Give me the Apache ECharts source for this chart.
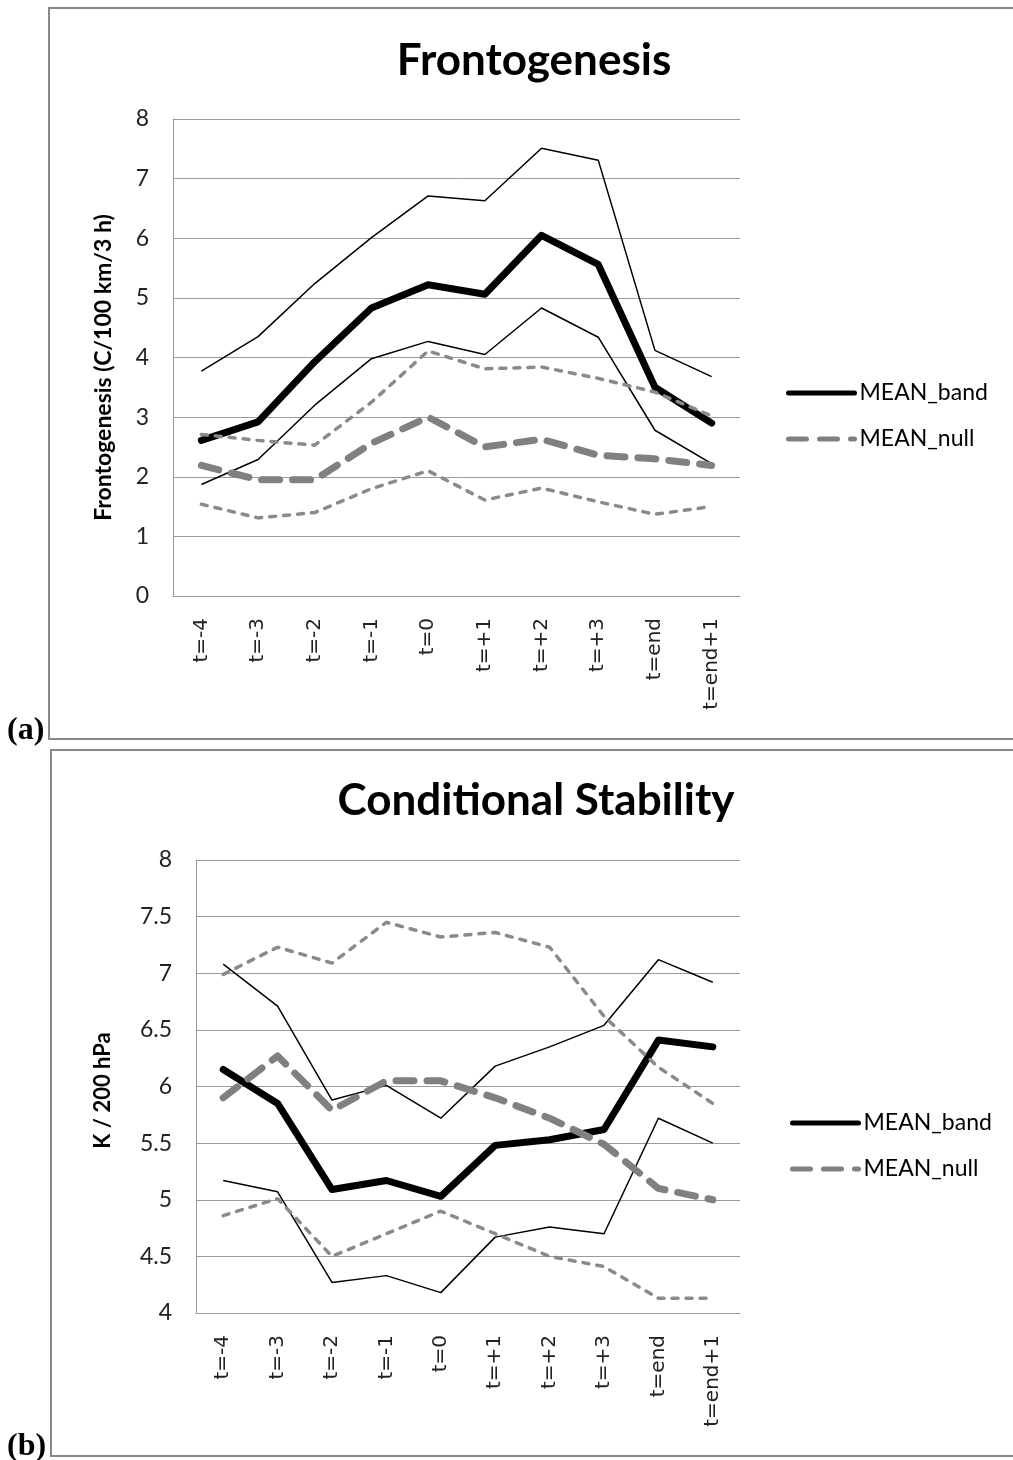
<!DOCTYPE html>
<html>
<head>
<meta charset="utf-8">
<script src="https://cdn.jsdelivr.net/npm/echarts@6/dist/echarts.min.js"></script>
<style>
  html, body { margin: 0; padding: 0; background: #fff; }
  #chart { width: 1013px; height: 1460px; }
</style>
</head>
<body>
<div id="chart"></div>
<script>
// time steps along the x axis
const categories = ["t=-4", "t=-3", "t=-2", "t=-1", "t=0", "t=+1", "t=+2", "t=+3", "t=end", "t=end+1"];

// (a) Frontogenesis, C/100 km/3 h
const frontoMeanBand = [2.61, 2.92, 3.93, 4.83, 5.22, 5.06, 6.05, 5.56, 3.5, 2.9];
const frontoBandHigh = [3.77, 4.35, 5.24, 6.01, 6.71, 6.63, 7.51, 7.31, 4.12, 3.68];
const frontoBandLow = [1.87, 2.29, 3.2, 3.98, 4.27, 4.05, 4.83, 4.34, 2.78, 2.22];
const frontoMeanNull = [2.19, 1.95, 1.95, 2.56, 3.0, 2.5, 2.63, 2.36, 2.3, 2.19];
const frontoNullHigh = [2.71, 2.61, 2.53, 3.25, 4.11, 3.81, 3.84, 3.65, 3.42, 3.02];
const frontoNullLow = [1.54, 1.31, 1.4, 1.8, 2.1, 1.61, 1.81, 1.58, 1.37, 1.5];

// (b) Conditional stability, K / 200 hPa
const stabMeanBand = [6.15, 5.85, 5.09, 5.17, 5.03, 5.48, 5.53, 5.62, 6.41, 6.35];
const stabBandHigh = [7.08, 6.71, 5.88, 6.01, 5.72, 6.18, 6.35, 6.54, 7.12, 6.92];
const stabBandLow = [5.17, 5.07, 4.27, 4.33, 4.18, 4.67, 4.76, 4.7, 5.72, 5.5];
const stabMeanNull = [5.9, 6.27, 5.79, 6.05, 6.05, 5.9, 5.72, 5.49, 5.1, 5.0];
const stabNullHigh = [6.99, 7.23, 7.09, 7.45, 7.32, 7.36, 7.23, 6.62, 6.17, 5.85];
const stabNullLow = [4.86, 5.01, 4.5, 4.7, 4.9, 4.7, 4.5, 4.41, 4.13, 4.13];

const calibri = "Lato, 'Open Sans', sans-serif";
const gridColor = "#9a9a9a";

const styles = {
  thickBlack: { color: "#000", width: 7, cap: "round", join: "round" },
  thinBlack: { color: "#000", width: 1.5 },
  thickGray: { color: "#808080", width: 7, type: [18, 13], cap: "round", join: "round" },
  thinGray: { color: "#8a8a8a", width: 3.5, type: [6, 8], cap: "round" },
};

function line(name, data, idx, style) {
  return {
    name,
    type: "line",
    xAxisIndex: idx,
    yAxisIndex: idx,
    data,
    symbol: "none",
    silent: true,
    itemStyle: { color: style.color },
    lineStyle: style,
  };
}

function xAxis(idx) {
  return {
    type: "category",
    gridIndex: idx,
    data: categories,
    boundaryGap: true,
    axisLine: { lineStyle: { color: gridColor, width: 1 } },
    axisTick: { alignWithLabel: true, length: 8, lineStyle: { color: gridColor } },
    axisLabel: {
      rotate: 90,
      margin: 22,
      interval: 0,
      color: "#222",
      fontFamily: "'DejaVu Sans', sans-serif",
      fontSize: 20,
    },
  };
}

function yAxis(idx, min, max, interval, name, nameGap, nameSize, namePad) {
  return {
    type: "value",
    gridIndex: idx,
    min,
    max,
    interval,
    name,
    nameLocation: "middle",
    nameGap,
    nameTextStyle: {
      fontFamily: calibri,
      fontWeight: "bold",
      fontSize: nameSize,
      color: "#000",
      padding: namePad,
    },
    axisLine: { show: true, lineStyle: { color: gridColor, width: 1 } },
    axisTick: { show: false },
    splitLine: { lineStyle: { color: gridColor, width: 1 } },
    axisLabel: { margin: 24, color: "#222", fontFamily: calibri, fontSize: 23 },
  };
}

function legend(left, top) {
  return {
    orient: "vertical",
    left,
    top,
    itemWidth: 66,
    itemHeight: 14,
    itemGap: 22,
    data: ["MEAN_band", "MEAN_null"],
    lineStyle: { width: 5 },
    itemStyle: { opacity: 0 },
    textStyle: { fontFamily: calibri, fontSize: 23, color: "#000", lineHeight: 24 },
  };
}

const chart = echarts.init(document.getElementById("chart"));
chart.setOption({
  animation: false,
  title: [
    {
      text: "Frontogenesis",
      left: 529,
      top: 34,
      textAlign: "center",
      textStyle: { fontFamily: calibri, fontWeight: "bold", fontSize: 44, color: "#000" },
    },
    {
      text: "Conditional Stability",
      left: 531,
      top: 774,
      textAlign: "center",
      textStyle: { fontFamily: calibri, fontWeight: "bold", fontSize: 44, color: "#000" },
    },
  ],
  legend: [legend(781, 376), legend(785, 1106)],
  grid: [
    { left: 173, top: 119, width: 567, height: 477 },
    { left: 196, top: 860, width: 544, height: 453 },
  ],
  xAxis: [xAxis(0), xAxis(1)],
  yAxis: [
    yAxis(0, 0, 8, 1, "Frontogenesis (C/100 km/3 h)", 58, 23, [0, 20, 0, 0]),
    yAxis(1, 4, 8, 0.5, "K / 200 hPa", 82, 22, [0, 8, 0, 0]),
  ],
  series: [
    line("MEAN_band", frontoMeanBand, 0, styles.thickBlack),
    line("band_high", frontoBandHigh, 0, styles.thinBlack),
    line("band_low", frontoBandLow, 0, styles.thinBlack),
    line("MEAN_null", frontoMeanNull, 0, styles.thickGray),
    line("null_high", frontoNullHigh, 0, styles.thinGray),
    line("null_low", frontoNullLow, 0, styles.thinGray),

    line("MEAN_band", stabMeanBand, 1, styles.thickBlack),
    line("band_high", stabBandHigh, 1, styles.thinBlack),
    line("band_low", stabBandLow, 1, styles.thinBlack),
    line("MEAN_null", stabMeanNull, 1, styles.thickGray),
    line("null_high", stabNullHigh, 1, styles.thinGray),
    line("null_low", stabNullLow, 1, styles.thinGray),
  ],
  // panel frames and (a)/(b) tags
  graphic: [
    {
      type: "rect",
      shape: { x: 49, y: 8, width: 1100, height: 731 },
      style: { fill: null, stroke: "#888", lineWidth: 2 },
      silent: true,
    },
    {
      type: "rect",
      shape: { x: 51, y: 750, width: 1100, height: 706 },
      style: { fill: null, stroke: "#888", lineWidth: 2 },
      silent: true,
    },
    {
      type: "text",
      left: 7,
      top: 715,
      style: { text: "(a)", font: "bold 32px 'Liberation Serif', 'Times New Roman', serif", fill: "#000" },
      silent: true,
    },
    {
      type: "text",
      left: 7,
      top: 1431,
      style: { text: "(b)", font: "bold 32px 'Liberation Serif', 'Times New Roman', serif", fill: "#000" },
      silent: true,
    },
  ],
});
</script>
</body>
</html>
